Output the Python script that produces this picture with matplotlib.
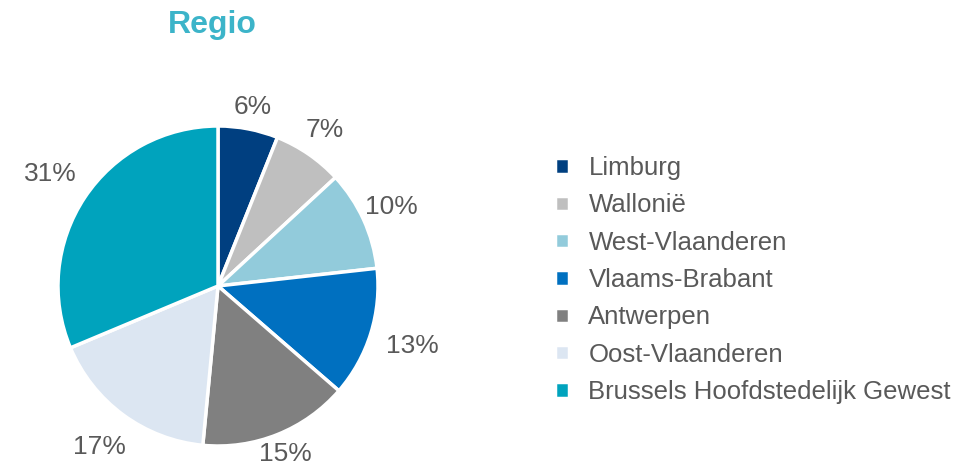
import numpy as np
import matplotlib.pyplot as plt

# data
regions = ["Limburg", "Wallonië", "West-Vlaanderen", "Vlaams-Brabant",
           "Antwerpen", "Oost-Vlaanderen", "Brussels Hoofdstedelijk Gewest"]
shares = [6, 7, 10, 13, 15, 17, 31]
colors = ["#003f80", "#bfbfbf", "#92cbdb", "#0070c0",
          "#808080", "#dce6f2", "#00a3bd"]
# distance of each percentage label from the centre (in radii)
label_dist = [1.14, 1.18, 1.19, 1.27, 1.13, 1.25, 1.26]

plt.rcParams['font.family'] = ['Liberation Sans', 'DejaVu Sans']
txt_color = "#595959"

W, H = 959, 465
fig = plt.figure(figsize=(W / 100, H / 100), dpi=100)

# pie axes: centre at (218, 286) px from top-left, radius 158 px
cx, cy, r, half = 218, 286, 158, 200
ax = fig.add_axes([(cx - half) / W, (H - cy - half) / H, 2 * half / W, 2 * half / H])
lim = half / r
ax.set_xlim(-lim, lim)
ax.set_ylim(-lim, lim)
ax.set_aspect("equal")
ax.axis("off")

wedges, texts = ax.pie(shares, colors=colors, startangle=90, counterclock=False,
                       labels=[f"{v}%" for v in shares], labeldistance=1.2,
                       wedgeprops=dict(edgecolor="white", linewidth=2.5),
                       textprops=dict(fontsize=19, color=txt_color))
for w, t, d in zip(wedges, texts, label_dist):
    ang = np.deg2rad((w.theta1 + w.theta2) / 2)
    t.set_position((d * np.cos(ang), d * np.sin(ang)))
    t.set_horizontalalignment("center")
    t.set_verticalalignment("center")

fig.text(212 / W, 1 - 25 / H, "Regio", fontsize=23, fontweight="bold",
         color="#3cb4c9", ha="center", va="center")

fig.legend(wedges, regions, loc="upper left", bbox_to_anchor=(555 / W, 1 - 156 / H),
           frameon=False, fontsize=18.5, handlelength=0.55, handleheight=0.55,
           handletextpad=0.75, labelspacing=0.52, borderpad=0, borderaxespad=0,
           labelcolor=txt_color)

fig.savefig("out.png", dpi=100)
